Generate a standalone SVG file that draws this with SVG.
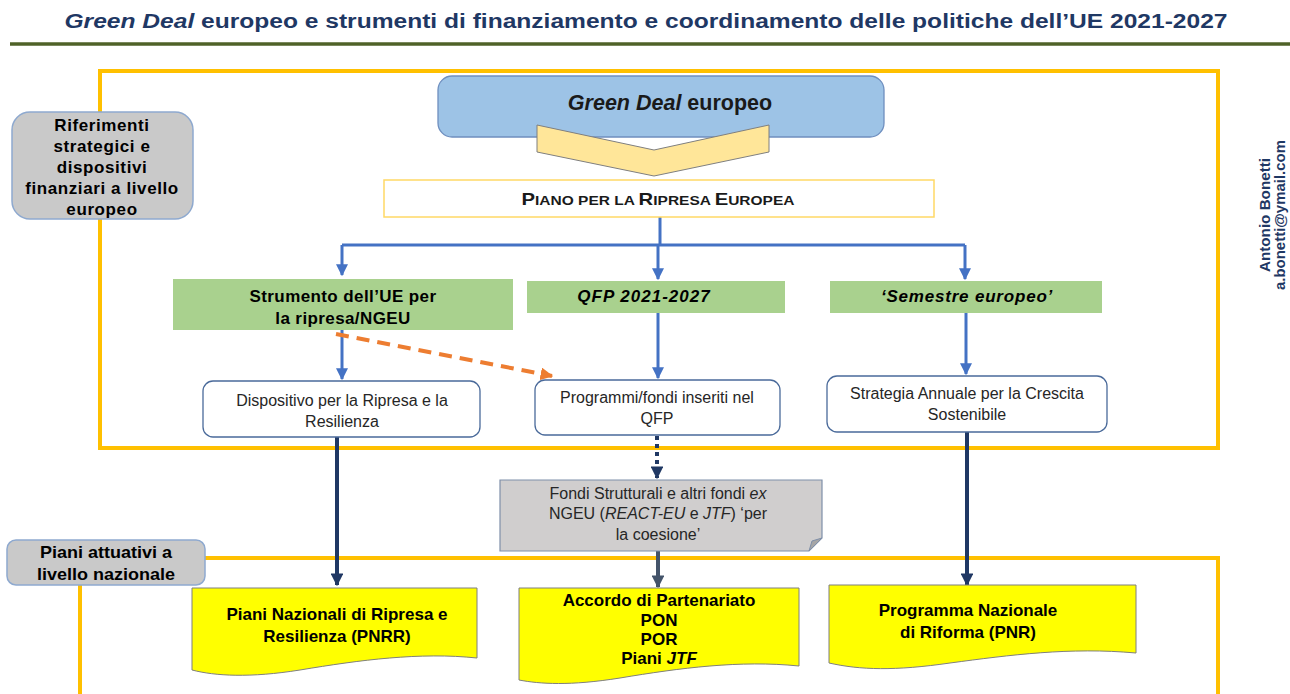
<svg xmlns="http://www.w3.org/2000/svg" width="1290" height="694" viewBox="0 0 1290 694">
<defs>
<style>
text{font-family:"Liberation Sans",Arial,sans-serif;}
.b{font-weight:bold;}
.i{font-style:italic;}
.c{text-anchor:middle;}
.lbl{font-size:17px;font-weight:bold;fill:#000;text-anchor:middle;}
.reg{font-size:16px;fill:#262626;text-anchor:middle;}
.frame{fill:none;stroke:#FFC000;stroke-width:4;}
.gray{fill:#C9C9C9;stroke:#8EA9CF;stroke-width:1.5;}
.green{fill:#A9D18E;}
.white{fill:#fff;stroke:#4A6A9A;stroke-width:1.3;}
.doc{fill:#FFFF00;stroke:#7F7F7F;stroke-width:1;}
.blue{fill:none;stroke:#4472C4;stroke-width:3;}
.navy{fill:none;stroke:#203864;stroke-width:4;}
</style>
<marker id="ab" viewBox="0 0 10 10" refX="9" refY="5" markerWidth="4" markerHeight="4" orient="auto" markerUnits="strokeWidth"><path d="M0,0 L10,5 L0,10 Z" fill="#4472C4"/></marker>
<marker id="an" viewBox="0 0 10 10" refX="9" refY="5" markerWidth="3.2" markerHeight="3.2" orient="auto" markerUnits="strokeWidth"><path d="M0,0 L10,5 L0,10 Z" fill="#203864"/></marker>
<marker id="ag" viewBox="0 0 10 10" refX="9" refY="5" markerWidth="3.2" markerHeight="3.2" orient="auto" markerUnits="strokeWidth"><path d="M0,0 L10,5 L0,10 Z" fill="#44546A"/></marker>
<marker id="ao" viewBox="0 0 10 10" refX="9" refY="5" markerWidth="3.2" markerHeight="3.2" orient="auto" markerUnits="strokeWidth"><path d="M0,0 L10,5 L0,10 Z" fill="#ED7D31"/></marker>
</defs>
<rect width="1290" height="694" fill="#fff"/>

<g id="title">
<text x="646" y="28" class="b c" font-size="20" fill="#1F3864" textLength="1163" lengthAdjust="spacingAndGlyphs"><tspan class="i">Green Deal</tspan> europeo e strumenti di finanziamento e coordinamento delle politiche dell’UE 2021-2027</text>
<line x1="10" y1="44" x2="1290" y2="44" stroke="#4F6228" stroke-width="3.5"/>
</g>

<g id="frames">
<rect class="frame" x="100" y="71" width="1118" height="377"/>
<path class="frame" d="M80,694 V558 H1218 V694"/>
</g>

<g id="author">
<text transform="translate(1270,215) rotate(-90)" class="b c" font-size="14" fill="#1F3864" textLength="114" lengthAdjust="spacingAndGlyphs">Antonio Bonetti</text>
<text transform="translate(1285,215) rotate(-90)" class="b c" font-size="14" fill="#1F3864" textLength="150" lengthAdjust="spacingAndGlyphs">a.bonetti@ymail.com</text>
</g>

<g id="connectors">
<path class="blue" d="M660,217 V245"/>
<path class="blue" d="M342,245 H965"/>
<path class="blue" d="M342,245 V275" marker-end="url(#ab)"/>
<path class="blue" d="M658,245 V279" marker-end="url(#ab)"/>
<path class="blue" d="M965,245 V279" marker-end="url(#ab)"/>
<path class="blue" d="M342,330 V379" marker-end="url(#ab)"/>
<path class="blue" d="M658,313 V378" marker-end="url(#ab)"/>
<path class="blue" d="M966,313 V374" marker-end="url(#ab)"/>
<path d="M336,334 L552,376" fill="none" stroke="#ED7D31" stroke-width="4" stroke-dasharray="13,8" marker-end="url(#ao)"/>
<path class="navy" d="M337,437 V585" marker-end="url(#an)"/>
<path class="navy" d="M967,432 V585" marker-end="url(#an)"/>
<path class="navy" d="M657,436 V478" stroke-dasharray="4,4" marker-end="url(#an)"/>
<path fill="none" stroke="#44546A" stroke-width="4" d="M658,551 V587" marker-end="url(#ag)"/>
</g>

<g id="label-europeo">
<rect class="gray" x="12" y="112" width="181" height="107" rx="18"/>
<text class="lbl" font-size="16" letter-spacing="0.6"><tspan x="102" y="131">Riferimenti</tspan><tspan x="102" y="152">strategici e</tspan><tspan x="102" y="173">dispositivi</tspan><tspan x="102" y="194">finanziari a livello</tspan><tspan x="102" y="215">europeo</tspan></text>
</g>

<g id="label-nazionale">
<rect class="gray" x="7" y="540" width="198" height="45" rx="9"/>
<text class="lbl" font-size="17"><tspan x="106" y="558" textLength="132" lengthAdjust="spacingAndGlyphs">Piani attuativi a</tspan><tspan x="106" y="580" textLength="138" lengthAdjust="spacingAndGlyphs">livello nazionale</tspan></text>
</g>

<g id="green-deal">
<rect x="438" y="76" width="446" height="61" rx="14" fill="#9DC3E6" stroke="#6F8FBF" stroke-width="1.3"/>
<text x="670" y="110" class="b c" font-size="21.5" fill="#1a1a1a"><tspan class="i">Green Deal</tspan> europeo</text>
<path d="M537,125 L654,150 L769,125 V152 L654,176 L537,152 Z" fill="#FFE699" stroke="#7F7F7F" stroke-width="1"/>
</g>

<g id="piano">
<rect x="384" y="180" width="550" height="37" fill="#fff" stroke="#FFD966" stroke-width="1.5"/>
<text x="658" y="205" class="b c" fill="#1a1a1a" font-size="17" textLength="273" lengthAdjust="spacingAndGlyphs">P<tspan font-size="13">IANO PER LA </tspan>R<tspan font-size="13">IPRESA </tspan>E<tspan font-size="13">UROPEA</tspan></text>
</g>

<g id="strumento">
<rect class="green" x="173" y="279" width="340" height="51"/>
<text class="lbl" letter-spacing="0.4"><tspan x="343" y="302">Strumento dell’UE per</tspan><tspan x="343" y="324">la ripresa/NGEU</tspan></text>
</g>

<g id="qfp">
<rect class="green" x="527" y="281" width="258" height="32"/>
<text x="644" y="302" class="lbl i" letter-spacing="1">QFP 2021-2027</text>
</g>

<g id="semestre">
<rect class="green" x="830" y="281" width="272" height="32"/>
<text x="967" y="302" class="lbl i" letter-spacing="0.8">‘Semestre europeo’</text>
</g>

<g id="dispositivo">
<rect class="white" x="203" y="381" width="277" height="56" rx="10"/>
<text class="reg"><tspan x="342" y="406">Dispositivo per la Ripresa e la</tspan><tspan x="342" y="427">Resilienza</tspan></text>
</g>

<g id="programmi">
<rect class="white" x="535" y="380" width="245" height="55" rx="10"/>
<text class="reg"><tspan x="657" y="403">Programmi/fondi inseriti nel</tspan><tspan x="657" y="424">QFP</tspan></text>
</g>

<g id="strategia">
<rect class="white" x="827" y="376" width="280" height="56" rx="10"/>
<text class="reg"><tspan x="967" y="399">Strategia Annuale per la Crescita</tspan><tspan x="967" y="420">Sostenibile</tspan></text>
</g>

<g id="fondi">
<path d="M500,480 H822 V538 L809,551 H500 Z" fill="#D0CECE" stroke="#7F8FA9" stroke-width="1.2"/>
<path d="M809,551 L812,541 L822,538 Z" fill="#A6A6A6" stroke="#7F8FA9" stroke-width="1"/>
<text class="reg" font-size="16.5"><tspan x="658" y="499">Fondi Strutturali e altri fondi <tspan class="i">ex</tspan></tspan><tspan x="658" y="519">NGEU (<tspan class="i">REACT-EU</tspan> e <tspan class="i">JTF</tspan>) ‘per</tspan><tspan x="658" y="540">la coesione’</tspan></text>
</g>

<g id="pnrr">
<path class="doc" d="M192,588 H477 V658 C420,652 360,660 300,670 C250,678 215,676 192,670 Z"/>
<text class="lbl" font-size="16"><tspan x="337" y="620">Piani Nazionali di Ripresa e</tspan><tspan x="337" y="642">Resilienza (PNRR)</tspan></text>
</g>

<g id="accordo">
<path class="doc" d="M519,588 H799 V666 C740,660 680,668 620,678 C570,686 540,684 519,680 Z"/>
<text class="lbl" font-size="16"><tspan x="659" y="606">Accordo di Partenariato</tspan><tspan x="659" y="626">PON</tspan><tspan x="659" y="645">POR</tspan><tspan x="659" y="664">Piani <tspan class="i">JTF</tspan></tspan></text>
</g>

<g id="pnr">
<path class="doc" d="M829,585 H1136 V653 C1070,647 1010,655 950,663 C895,671 860,670 829,663 Z"/>
<text class="lbl" font-size="16"><tspan x="968" y="616">Programma Nazionale</tspan><tspan x="968" y="638">di Riforma (PNR)</tspan></text>
</g>
</svg>
